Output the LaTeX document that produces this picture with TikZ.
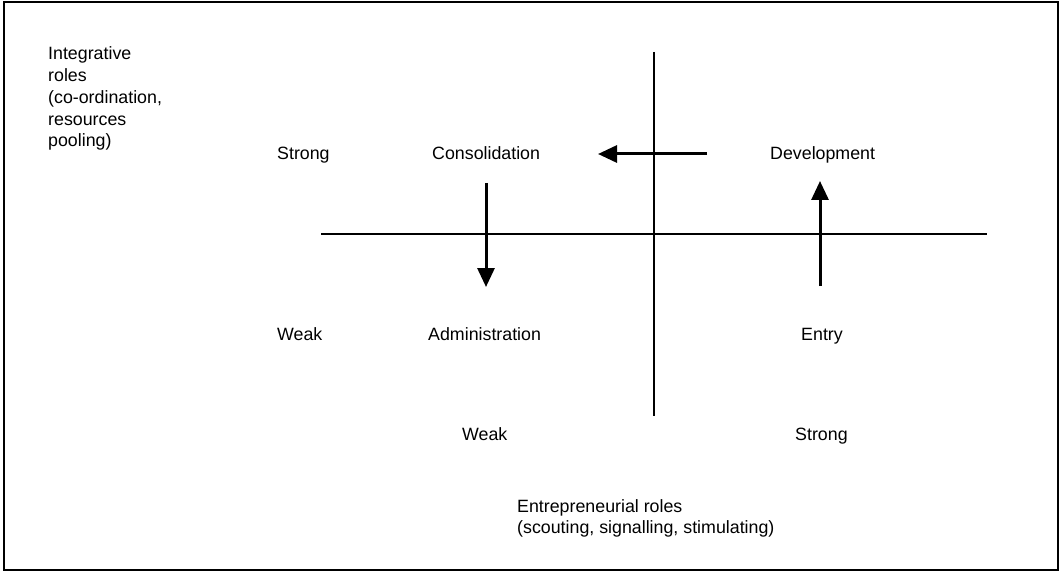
\documentclass[tikz,border=0pt]{standalone}
\usepackage{fontspec}
\setmainfont{Liberation Sans}
\usetikzlibrary{arrows.meta}
\begin{document}
\begin{tikzpicture}[x=1pt,y=-1pt,
  lbl/.style={inner sep=0pt,anchor=base west,font=\fontsize{17.8}{21.7}\selectfont},
  axis/.style={line width=2pt},
  move/.style={line width=3pt,-{Triangle[length=19pt,width=17pt]}},
  frame/.style={line width=2pt}]
\useasboundingbox (0,0) rectangle (1063,572);
\draw[frame] (4,2) rectangle (1058,570);
% axes
\coordinate (vt) at (654,52);
\coordinate (vb) at (654,416);
\coordinate (hl) at (321,234);
\coordinate (hr) at (987,234);
\draw[axis] (vt) -- (vb);
\draw[axis] (hl) -- (hr);
% labels
\node[lbl] (int1) at (48,60) {Integrative};
\node[lbl] (int2) at (48,81.7) {roles};
\node[lbl] (int3) at (48,103.4) {(co-ordination,};
\node[lbl] (int4) at (48,125.1) {resources};
\node[lbl] (int5) at (48,146.8) {pooling)};
\node[lbl] (strongL) at (277,160) {Strong};
\node[lbl] (cons) at (432,160) {Consolidation};
\node[lbl] (dev) at (770,160) {Development};
\node[lbl] (weakL) at (277,340) {Weak};
\node[lbl] (admin) at (428,340) {Administration};
\node[lbl,anchor=base] (entry) at (822,340) {Entry};
\node[lbl] (weakB) at (462,440) {Weak};
\node[lbl] (strongB) at (795,440) {Strong};
\node[lbl] (ent1) at (517,512) {Entrepreneurial roles};
\node[lbl] (ent2) at (517,533.7) {(scouting, signalling, stimulating)};
% movement arrows
\coordinate (a1s) at (707,154);
\coordinate (a1e) at (598,154);
\coordinate (a2s) at (486,183);
\coordinate (a2e) at (486,287);
\coordinate (a3s) at (820,286);
\coordinate (a3e) at (820,181);
\draw[move] (a1s) -- (a1e);
\draw[move] (a2s) -- (a2e);
\draw[move] (a3s) -- (a3e);
\end{tikzpicture}
\end{document}
